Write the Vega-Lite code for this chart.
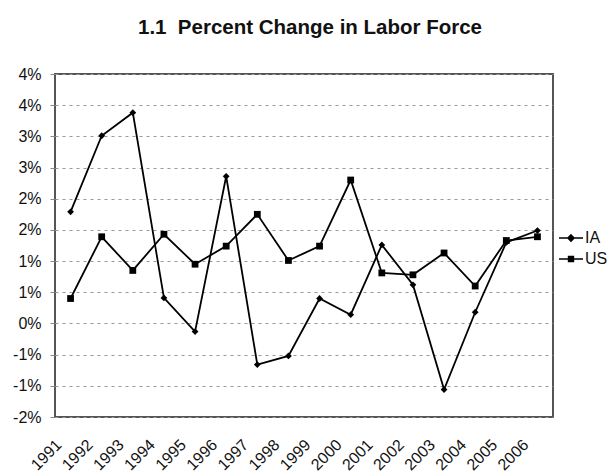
{
  "$schema": "https://vega.github.io/schema/vega-lite/v6.json",
  "width": 498,
  "height": 343,
  "padding": {"left": 12, "top": 17, "right": 0, "bottom": 0},
  "background": "white",
  "title": {
    "text": "1.1\u00a0 Percent Change in Labor Force",
    "font": "Liberation Sans",
    "fontSize": 20.5,
    "fontWeight": "bold",
    "color": "#111111",
    "anchor": "middle",
    "offset": 28,
    "dx": 6
  },
  "config": {
    "view": {"stroke": "#555555", "strokeWidth": 2},
    "font": "Liberation Sans"
  },
  "data": {
    "values": [
      {"year": "1991", "series": "IA", "value": 1.79},
      {"year": "1992", "series": "IA", "value": 3.01},
      {"year": "1993", "series": "IA", "value": 3.38},
      {"year": "1994", "series": "IA", "value": 0.41},
      {"year": "1995", "series": "IA", "value": -0.13},
      {"year": "1996", "series": "IA", "value": 2.36},
      {"year": "1997", "series": "IA", "value": -0.66},
      {"year": "1998", "series": "IA", "value": -0.52},
      {"year": "1999", "series": "IA", "value": 0.40},
      {"year": "2000", "series": "IA", "value": 0.14},
      {"year": "2001", "series": "IA", "value": 1.26},
      {"year": "2002", "series": "IA", "value": 0.62},
      {"year": "2003", "series": "IA", "value": -1.06},
      {"year": "2004", "series": "IA", "value": 0.18},
      {"year": "2005", "series": "IA", "value": 1.30},
      {"year": "2006", "series": "IA", "value": 1.49},
      {"year": "1991", "series": "US", "value": 0.40},
      {"year": "1992", "series": "US", "value": 1.39},
      {"year": "1993", "series": "US", "value": 0.85},
      {"year": "1994", "series": "US", "value": 1.43},
      {"year": "1995", "series": "US", "value": 0.95},
      {"year": "1996", "series": "US", "value": 1.24},
      {"year": "1997", "series": "US", "value": 1.75},
      {"year": "1998", "series": "US", "value": 1.01},
      {"year": "1999", "series": "US", "value": 1.24},
      {"year": "2000", "series": "US", "value": 2.30},
      {"year": "2001", "series": "US", "value": 0.81},
      {"year": "2002", "series": "US", "value": 0.78},
      {"year": "2003", "series": "US", "value": 1.13},
      {"year": "2004", "series": "US", "value": 0.60},
      {"year": "2005", "series": "US", "value": 1.33},
      {"year": "2006", "series": "US", "value": 1.39}
    ]
  },
  "encoding": {
    "x": {
      "field": "year",
      "type": "ordinal",
      "sort": null,
      "scale": {"type": "point", "padding": 0.5},
      "axis": {
        "title": null,
        "labelAngle": -45,
        "labelAlign": "right",
        "labelBaseline": "middle",
        "labelPadding": 25,
        "labelOffset": -12,
        "labelFontSize": 16,
        "labelColor": "#111111",
        "ticks": false,
        "domain": false,
        "grid": false
      }
    },
    "y": {
      "field": "value",
      "type": "quantitative",
      "scale": {"domain": [-1.5, 4], "nice": false, "zero": false},
      "axis": {
        "title": null,
        "values": [-1.5, -1, -0.5, 0, 0.5, 1, 1.5, 2, 2.5, 3, 3.5, 4],
        "labelExpr": "(datum.value < 0 ? '-' : '') + format(abs(datum.value), '.0f') + '%'",
        "labelFontSize": 16,
        "labelColor": "#111111",
        "labelPadding": 9,
        "domain": false,
        "ticks": true,
        "tickSize": 5,
        "tickColor": "#888888",
        "grid": true,
        "gridColor": "#999999",
        "gridDash": [3, 4],
        "gridWidth": 1
      }
    }
  },
  "layer": [
    {
      "mark": {"type": "line", "color": "black", "strokeWidth": 1.8},
      "encoding": {"detail": {"field": "series", "type": "nominal"}}
    },
    {
      "mark": {"type": "point", "filled": true, "color": "black", "opacity": 1, "size": 46},
      "encoding": {
        "shape": {
          "field": "series",
          "type": "nominal",
          "scale": {"domain": ["IA", "US"], "range": ["diamond", "square"]},
          "legend": null
        }
      }
    },
    {
      "transform": [{"filter": "datum.value > 100"}],
      "mark": {"type": "point", "filled": false, "color": "black", "opacity": 1, "size": 64, "strokeWidth": 1.6},
      "encoding": {
        "shape": {
          "field": "series",
          "type": "nominal",
          "scale": {
            "domain": ["IA", "US"],
            "range": [
              "M-3,0H3M0,-0.75L0.75,0L0,0.75L-0.75,0ZM-0.45,-0.3H0.45M-0.45,0.3H0.45",
              "M-3,0H3M-0.6,-0.6H0.6V0.6H-0.6ZM-0.6,-0.3H0.6M-0.6,0.3H0.6"
            ]
          },
          "legend": {
            "title": null,
            "orient": "none",
            "legendX": 508,
            "legendY": 156,
            "padding": 0,
            "labelFontSize": 16,
            "labelColor": "#111111",
            "labelOffset": 6,
            "rowPadding": 5,
            "symbolSize": 64,
            "symbolStrokeColor": "black",
            "symbolStrokeWidth": 1.6
          }
        }
      }
    }
  ],
  "resolve": {"scale": {"shape": "independent"}}
}
